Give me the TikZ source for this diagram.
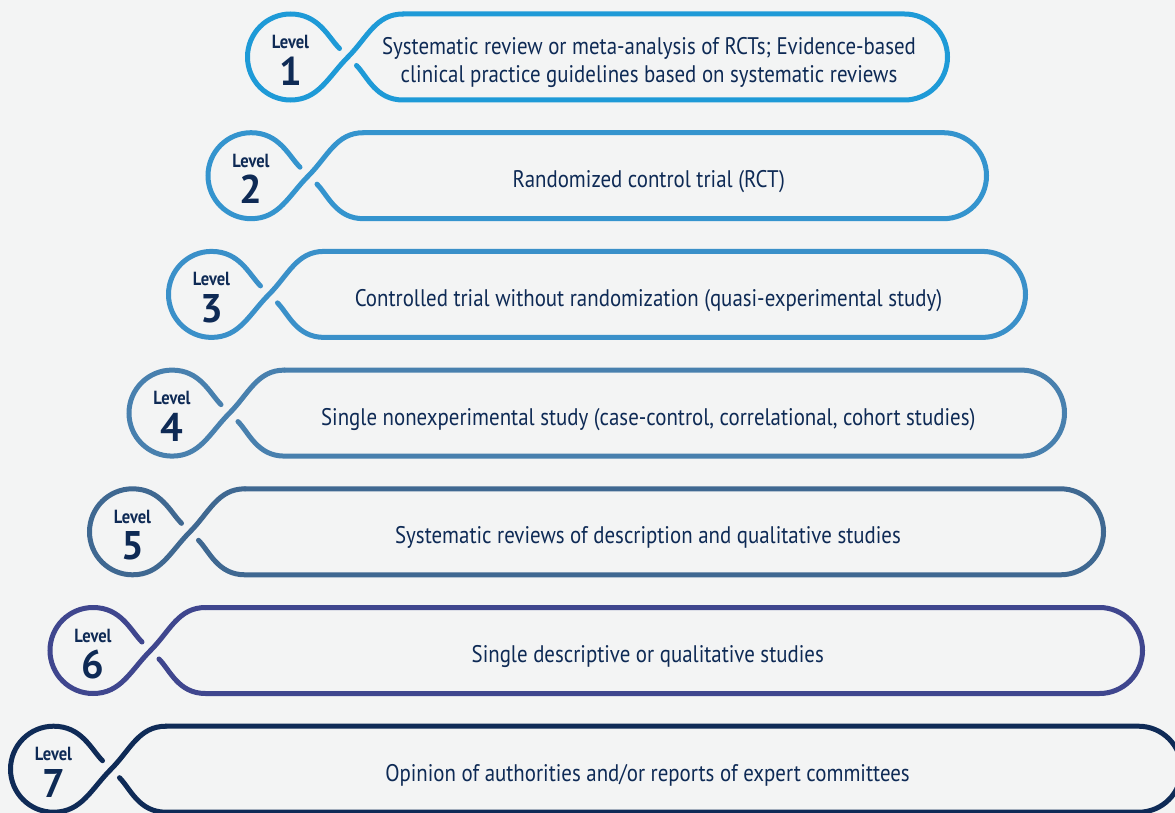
\documentclass[tikz,border=0pt]{standalone}
\usepackage{fontspec}
\setmainfont{PT Sans}[FakeStretch=0.87]
\newfontfamily\numfont{PT Sans}
\usepackage{xcolor}
\usepackage{tikz}
\usetikzlibrary{positioning}

\definecolor{bgcol}{HTML}{F3F4F4}
\definecolor{ink}{HTML}{0E2A55}
\definecolor{lv1}{HTML}{1E9AD7}
\definecolor{lv2}{HTML}{3494CE}
\definecolor{lv3}{HTML}{3A90C9}
\definecolor{lv4}{HTML}{4880AE}
\definecolor{lv5}{HTML}{3F6891}
\definecolor{lv6}{HTML}{3F468E}
\definecolor{lv7}{HTML}{0F2B57}

\begin{document}
\begin{tikzpicture}[x=1pt,y=1pt,
    band/.style={line width=5pt, line cap=round},
    lvlword/.style={font=\bfseries\fontsize{19}{19}\selectfont, text=ink, inner sep=0pt},
    lvlnum/.style={font=\numfont\bfseries\fontsize{40}{40}\selectfont, text=ink, inner sep=0pt},
    evidence/.style={font=\fontsize{24}{28}\selectfont, text=ink, align=center, inner sep=0pt}
  ]
  \useasboundingbox[fill=bgcol] (0,0) rectangle (1175,-813);
  \foreach \i/\col/\txt in {
      1/lv1/{Systematic review or meta-analysis of RCTs; Evidence-based\\clinical practice guidelines based on systematic reviews},
      2/lv2/{Randomized control trial (RCT)},
      3/lv3/{Controlled trial without randomization (quasi-experimental study)},
      4/lv4/{Single nonexperimental study (case-control, correlational, cohort studies)},
      5/lv5/{Systematic reviews of description and qualitative studies},
      6/lv6/{Single descriptive or qualitative studies},
      7/lv7/{Opinion of authorities and/or reports of expert committees}} {
    \begin{scope}[shift={(348-39.5*\i+39.5, -57-118.7*\i+118.7)}]
      \pgfmathsetmacro\rx{556.5+78.5*(\i-1)}
      \pgfmathsetmacro\mx{301+39.25*(\i-1)}
      % loop, crossing and pill
      \draw[band,\col,shorten >=12pt] (55,43) to[out=180,in=45] (0,0)
        to[out=-135,in=0] (-57.5,-43)
        arc[start angle=-90,end angle=-270,radius=43]
        to[out=0,in=135] (0,0);
      \draw[band,\col,shorten <=12pt] (0,0) to[out=-45,in=180] (55,-43)
        -- (\rx,-43) arc[start angle=-90,end angle=90,radius=43] -- (55,43);
      \node[lvlword] (word\i) at (-57.5,15) {Level};
      \node[lvlnum] (num\i) at (-57.5,-14) {\i};
      \node[evidence] (txt\i) at (\mx,-6) {\txt};
    \end{scope}
  }
\end{tikzpicture}
\end{document}
